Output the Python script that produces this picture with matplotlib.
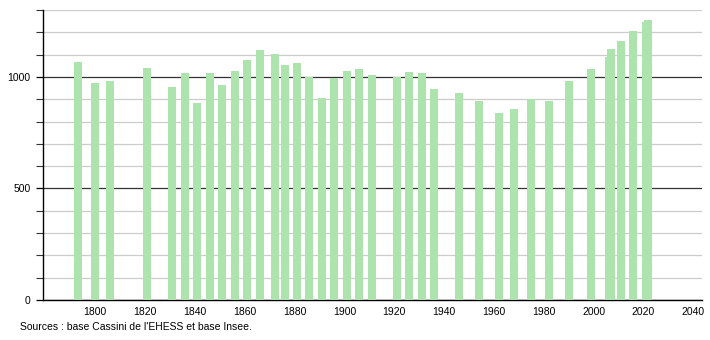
import matplotlib
import matplotlib.pyplot as plt
from matplotlib.ticker import MultipleLocator

matplotlib.rc('font', **{'family': 'Liberation Sans'})

years = [1793, 1800, 1806, 1821, 1831, 1836, 1841, 1846, 1851, 1856,
         1861, 1866, 1872, 1876, 1881, 1886, 1891, 1896, 1901, 1906,
         1911, 1921, 1926, 1931, 1936, 1946, 1954, 1962, 1968, 1975,
         1982, 1990, 1999, 2006, 2007, 2011, 2016, 2021, 2022]
population = [1066, 971, 980, 1041, 954, 1016, 884, 1016, 962, 1028,
              1074, 1122, 1104, 1055, 1064, 1001, 906, 996, 1028, 1034,
              1008, 1001, 1020, 1016, 948, 929, 890, 839, 858, 903,
              890, 980, 1034, 1089, 1124, 1160, 1208, 1248, 1254]

source = "Sources : base Cassini de l'EHESS et base Insee."

fig = plt.figure(figsize=(7.1, 3.4), dpi=100)
ax = fig.add_axes([43 / 710, 40 / 340, 659 / 710, 290 / 340])

ax.bar(years, population, width=3.2, color='#ade3ad', zorder=3)

ax.set_xlim(1779.1, 2043.5)
ax.set_ylim(0, 1300)
ax.set_xticks(range(1800, 2041, 20))
ax.set_yticks([0, 500, 1000])
ax.yaxis.set_minor_locator(MultipleLocator(100))

ax.grid(axis='y', which='minor', color='#cccccc', linewidth=0.9, zorder=0)
ax.grid(axis='y', which='major', color='#333333', linewidth=0.9, zorder=1)

for s in ['top', 'right']:
    ax.spines[s].set_visible(False)
ax.spines['left'].set_linewidth(1.0)
ax.spines['bottom'].set_linewidth(1.0)

ax.tick_params(axis='x', length=0, labelsize=7.5, pad=5)
ax.tick_params(axis='y', which='major', length=5, width=0.9, labelsize=7.5, pad=4)
ax.tick_params(axis='y', which='minor', length=5, width=0.8, color='#333333')

fig.text(20 / 710, 1 - 327 / 340, source, fontsize=7.5, va='center', ha='left')

plt.savefig('out.png', dpi=100)
